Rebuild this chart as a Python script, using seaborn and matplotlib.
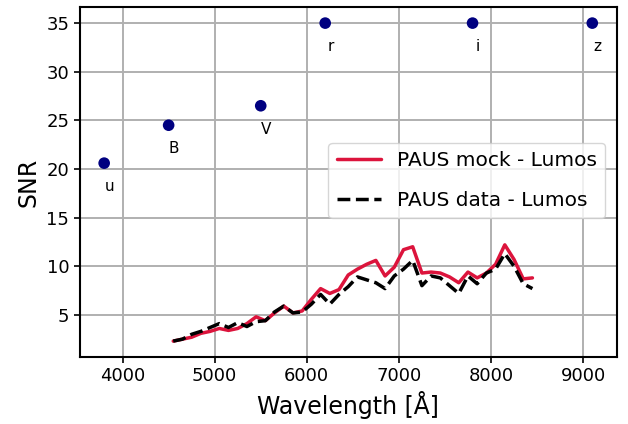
import numpy as np
import pandas as pd
import matplotlib
matplotlib.use("Agg")
import matplotlib.pyplot as plt
import seaborn as sns

# broad bands
bb_names = ["u", "B", "V", "r", "i", "z"]
bb_wave = [3800, 4500, 5500, 6200, 7800, 9100]
bb_snr = [20.6, 24.5, 26.5, 35.0, 35.0, 35.0]

# PAUS narrow bands
nb_wave = list(range(4550, 8451, 100))
snr_mock = [2.3, 2.5, 2.7, 3.1, 3.3, 3.6, 3.4, 3.6, 4.1, 4.8,
            4.4, 5.2, 5.9, 5.2, 5.4, 6.6, 7.7, 7.2, 7.6, 9.1,
            9.7, 10.2, 10.6, 9.0, 9.9, 11.7, 12.0, 9.3, 9.4, 9.3,
            8.9, 8.3, 9.4, 8.8, 9.3, 10.2, 12.2, 10.7, 8.7, 8.8]
snr_data = [2.3, 2.5, 3.0, 3.3, 3.7, 4.1, 3.7, 4.2, 3.8, 4.3,
            4.4, 5.3, 5.9, 5.2, 5.3, 6.1, 7.1, 6.1, 7.1, 7.9,
            8.9, 8.6, 8.3, 7.7, 9.0, 9.7, 10.6, 8.0, 9.0, 8.8,
            8.0, 7.2, 9.0, 8.2, 9.3, 9.7, 11.3, 10.0, 8.2, 7.7]

sns.set_style("ticks")
plt.rcParams["font.family"] = ["DejaVu Sans"]
plt.rcParams["text.color"] = "black"
plt.rcParams["axes.labelcolor"] = "black"

fig = plt.figure(figsize=(6.28, 4.24), dpi=100)
ax = fig.add_axes([0.127, 0.158, 0.855, 0.825])

ax.grid(True, color="#b0b0b0", linewidth=1.4)
ax.set_axisbelow(True)

sns.scatterplot(x=bb_wave, y=bb_snr, color="navy", s=70, edgecolor="none", ax=ax, zorder=3)
for name, w, s in zip(bb_names, bb_wave, bb_snr):
    ax.text(w + 60, s - 2.4, name, fontsize=11, ha="center", va="center", color="black")

sns.lineplot(x=nb_wave, y=snr_mock, color="crimson", linewidth=2.5,
             label="PAUS mock - Lumos", ax=ax)
sns.lineplot(x=nb_wave, y=snr_data, color="black", linewidth=2.5, linestyle="--",
             label="PAUS data - Lumos", ax=ax)

ax.set_xlabel("Wavelength [Å]", fontsize=17)
ax.set_ylabel("SNR", fontsize=17)
ax.tick_params(labelsize=13, direction="out", length=4, width=1.2,
               colors="black", labelcolor="black")
for sp in ax.spines.values():
    sp.set_linewidth(1.5)
    sp.set_color("black")

ax.legend(loc="upper right", bbox_to_anchor=(0.997, 0.64), fontsize=14.5,
          framealpha=0.8, handlelength=2.2, labelspacing=1.05, labelcolor="black")

fig.savefig("out.png", dpi=100)
